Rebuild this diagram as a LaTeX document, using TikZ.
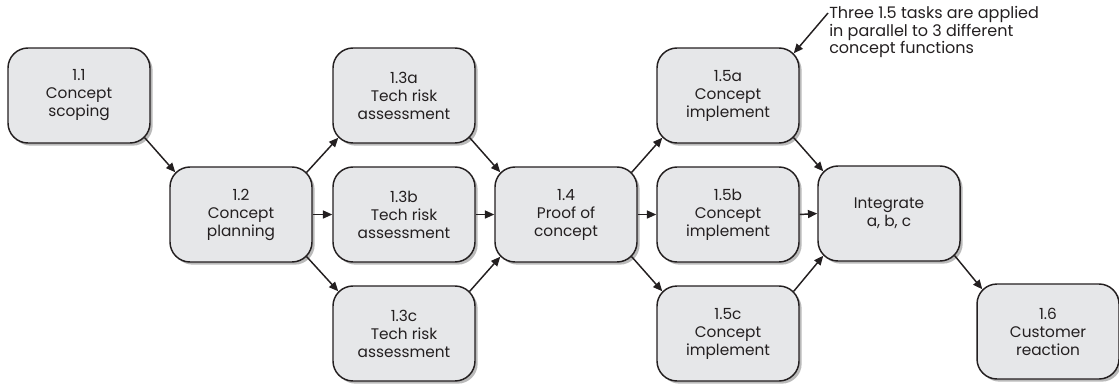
\documentclass[tikz,border=0pt]{standalone}
\usepackage{fontspec}
\setmainfont{Poppins}
\usetikzlibrary{arrows.meta,shadows,calc}
\definecolor{boxfill}{HTML}{E6E7E9}
\definecolor{ink}{HTML}{231F20}
\tikzset{
  task/.style={draw=ink, line width=1.1pt, fill=boxfill, rounded corners=15pt,
    minimum width=106.5pt, minimum height=71.25pt, align=center, inner sep=0pt,
    font=\fontsize{11.5pt}{13.5pt}\selectfont, text=ink,
    drop shadow={shadow xshift=2pt, shadow yshift=-2pt, fill=black!45, opacity=0.6}},
  conn/.style={draw=ink, line width=1.1pt, -{Triangle[length=7pt,width=6pt]}},
  note/.style={align=left, anchor=north west, inner sep=0pt, text=ink,
    font=\fontsize{12pt}{11.2pt}\selectfont}
}
\begin{document}
\begin{tikzpicture}[x=0.75pt,y=-0.75pt]
\useasboundingbox (0,0) rectangle (1119,383);
\node[task] (a11) at (79,95.5) {1.1\\Concept\\scoping};
\node[task] (a12) at (241,214.5) {1.2\\Concept\\planning};
\node[task] (a13a) at (404,95.5) {1.3a\\Tech risk\\assessment};
\node[task] (a13b) at (404,214.5) {1.3b\\Tech risk\\assessment};
\node[task] (a13c) at (404,333.5) {1.3c\\Tech risk\\assessment};
\node[task] (a14) at (566,214.5) {1.4\\Proof of\\concept};
\node[task] (a15a) at (728,95.5) {1.5a\\Concept\\implement};
\node[task] (a15b) at (728,214.5) {1.5b\\Concept\\implement};
\node[task] (a15c) at (728,333.5) {1.5c\\Concept\\implement};
\node[task] (int) at (889,213.5) {Integrate\\a, b, c};
\node[task] (a16) at (1048,331.5) {1.6\\Customer\\reaction};
\node[note] (note) at (829,6) {Three 1.5 tasks are applied\\in parallel to 3 different\\concept functions};
\coordinate (nstart) at (828,13);
% connectors
\def\ins{4.5pt}
\draw[conn] ($(a11.south east)+(-\ins,\ins)$) -- ($(a12.north west)+(\ins,-\ins)$);
\draw[conn] ($(a12.north east)+(-\ins,-\ins)$) -- ($(a13a.south west)+(\ins,\ins)$);
\draw[conn] (a12.east) -- (a13b.west);
\draw[conn] ($(a12.south east)+(-\ins,\ins)$) -- ($(a13c.north west)+(\ins,-\ins)$);
\draw[conn] ($(a13a.south east)+(-\ins,\ins)$) -- ($(a14.north west)+(\ins,-\ins)$);
\draw[conn] (a13b.east) -- (a14.west);
\draw[conn] ($(a13c.north east)+(-\ins,-\ins)$) -- ($(a14.south west)+(\ins,\ins)$);
\draw[conn] ($(a14.north east)+(-\ins,-\ins)$) -- ($(a15a.south west)+(\ins,\ins)$);
\draw[conn] (a14.east) -- (a15b.west);
\draw[conn] ($(a14.south east)+(-\ins,\ins)$) -- ($(a15c.north west)+(\ins,-\ins)$);
\draw[conn] ($(a15a.south east)+(-\ins,\ins)$) -- ($(int.north west)+(\ins,-\ins)$);
\draw[conn] (a15b.east) -- (int.west);
\draw[conn] ($(a15c.north east)+(-\ins,-\ins)$) -- ($(int.south west)+(\ins,\ins)$);
\draw[conn] ($(int.south east)+(-\ins,\ins)$) -- ($(a16.north west)+(\ins,-\ins)$);
\draw[conn] (nstart) -- ($(a15a.north east)+(-\ins,-\ins)$);
\end{tikzpicture}
\end{document}
